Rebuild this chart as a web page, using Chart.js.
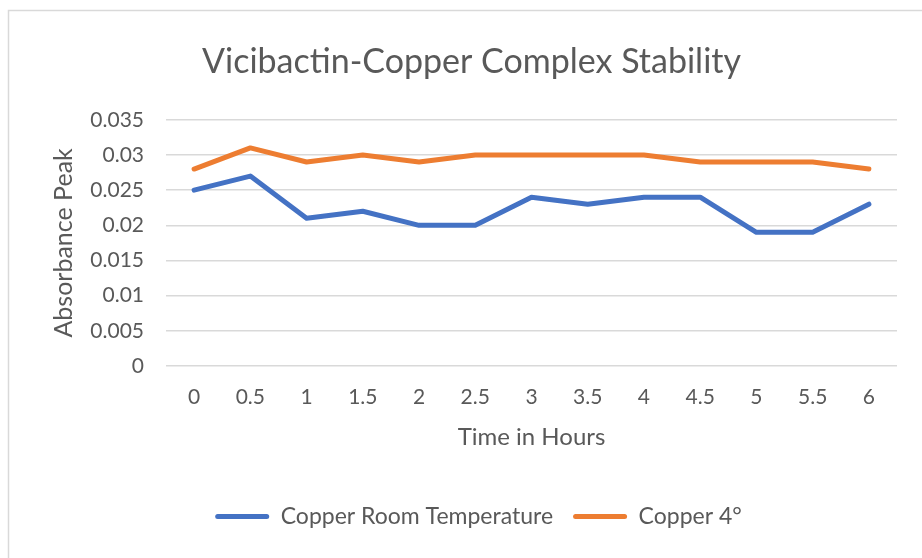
<!DOCTYPE html>
<html>
<head>
<meta charset="utf-8">
<script src="https://cdn.jsdelivr.net/npm/chart.js@4"></script>
<style>
  html, body { margin: 0; padding: 0; background: #ffffff; overflow: hidden; }
  #wrap { width: 922px; height: 558px; position: relative; }
</style>
</head>
<body>
<div id="wrap"><canvas id="c" width="922" height="558"></canvas></div>
<script>
const categories = ["0", "0.5", "1", "1.5", "2", "2.5", "3", "3.5", "4", "4.5", "5", "5.5", "6"];
const roomTemp = [0.025, 0.027, 0.021, 0.022, 0.020, 0.020, 0.024, 0.023, 0.024, 0.024, 0.019, 0.019, 0.023];
const copper4 = [0.028, 0.031, 0.029, 0.030, 0.029, 0.030, 0.030, 0.030, 0.030, 0.029, 0.029, 0.029, 0.028];
const yTickLabels = ["0", "0.005", "0.01", "0.015", "0.02", "0.025", "0.03", "0.035"];
const seriesNames = ["Copper Room Temperature", "Copper 4°"];
const titleText = "Vicibactin-Copper Complex Stability";
const xTitle = "Time in Hours";
const yTitle = "Absorbance Peak";

const TEXT = "#595959";
const FONT = "Lato, 'Open Sans', sans-serif";

const borderPlugin = {
  id: 'outerBorder',
  beforeDraw(chart) {
    const ctx = chart.ctx;
    ctx.save();
    ctx.fillStyle = '#ffffff';
    ctx.fillRect(0, 0, chart.width, chart.height);
    ctx.strokeStyle = '#D9D9D9';
    ctx.lineWidth = 1.5;
    ctx.strokeRect(8.5, 10.5, chart.width + 10, chart.height + 10);
    ctx.restore();
  }
};

// The original chart frame extends past the right edge, so title and legend sit right of canvas centre.
const shiftPlugin = {
  id: 'shiftBoxes',
  afterLayout(chart) {
    if (chart.titleBlock) { chart.titleBlock.left += 23; chart.titleBlock.right += 23; }
    if (chart.legend) { chart.legend.left += 30; chart.legend.right += 30; }
  }
};

new Chart(document.getElementById('c'), {
  type: 'line',
  data: {
    labels: categories,
    datasets: [
      { label: seriesNames[0], data: roomTemp, borderColor: '#4472C4', backgroundColor: '#4472C4',
        borderWidth: 5, pointRadius: 0, pointHoverRadius: 0, tension: 0,
        borderCapStyle: 'round', borderJoinStyle: 'round', fill: false },
      { label: seriesNames[1], data: copper4, borderColor: '#ED7D31', backgroundColor: '#ED7D31',
        borderWidth: 5, pointRadius: 0, pointHoverRadius: 0, tension: 0,
        borderCapStyle: 'round', borderJoinStyle: 'round', fill: false }
    ]
  },
  options: {
    responsive: false,
    animation: false,
    devicePixelRatio: 1,
    layout: { padding: { left: 0, right: 25, top: 0, bottom: 20 } },
    plugins: {
      title: {
        display: true, text: titleText, color: TEXT,
        font: { family: FONT, size: 34, weight: 'normal' },
        padding: { top: 42, bottom: 37 }
      },
      legend: {
        display: true, position: 'bottom',
        labels: {
          color: TEXT, font: { family: FONT, size: 23 },
          boxWidth: 54, boxHeight: 5, padding: 20,
          useBorderRadius: true, borderRadius: 2.5,
          generateLabels(chart) {
            return chart.data.datasets.map((d, i) => ({
              text: d.label, fillStyle: d.borderColor, strokeStyle: d.borderColor,
              lineWidth: 0, hidden: false, datasetIndex: i, fontColor: TEXT,
              borderRadius: 2.5
            }));
          }
        }
      },
      tooltip: { enabled: false }
    },
    scales: {
      x: {
        offset: true,
        grid: { display: false, drawTicks: false },
        border: { display: false },
        ticks: { color: TEXT, font: { family: FONT, size: 21 }, padding: 19, maxRotation: 0, autoSkip: false },
        title: { display: true, text: xTitle, color: TEXT, font: { family: FONT, size: 24 }, padding: { top: 0, bottom: 33 } },
        afterFit(scale) { scale.height = 119; }
      },
      y: {
        min: 0, max: 0.035,
        grid: { color: '#D9D9D9', lineWidth: 1.5, drawTicks: false },
        border: { display: false },
        ticks: {
          stepSize: 0.005, color: TEXT, font: { family: FONT, size: 21 }, padding: 22,
          callback: (v, i) => yTickLabels[i]
        },
        title: { display: true, text: yTitle, color: TEXT, font: { family: FONT, size: 25 }, padding: { top: 49, bottom: 0 } },
        afterFit(scale) { scale.width = 166; }
      }
    }
  },
  plugins: [borderPlugin, shiftPlugin]
});
</script>
</body>
</html>
